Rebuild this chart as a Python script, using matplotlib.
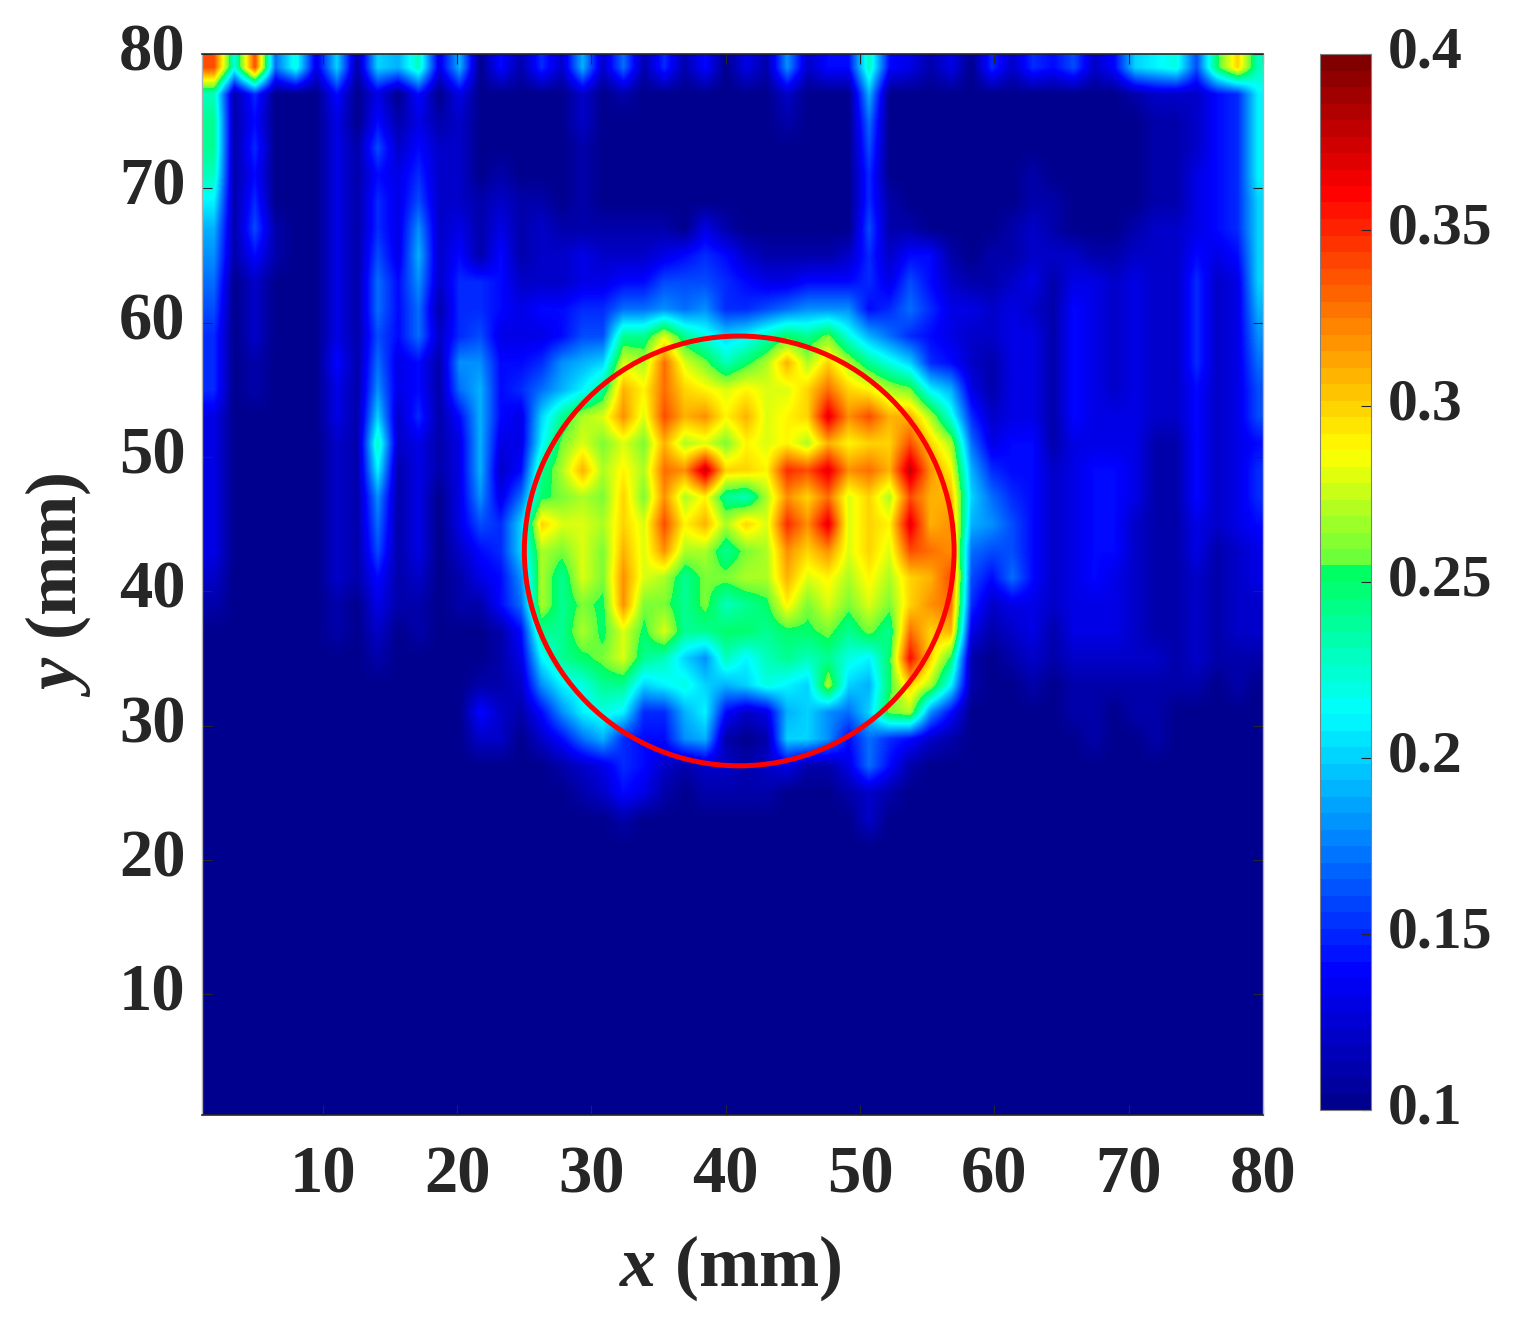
"""
Mapa de calor com círculo vermelho e barra de cores (jet).
"""
import matplotlib
matplotlib.use("Agg")
import matplotlib.pyplot as plt, numpy as np
from matplotlib.colors import LinearSegmentedColormap, Normalize
from matplotlib.cm import ScalarMappable
from matplotlib.patches import Circle
from matplotlib.transforms import ScaledTranslation

# valores, em centésimos; linhas de y=79 até y=23, de 2 em 2 mm
# colunas a partir de x=1.9, de 1.525 em 1.525 mm
field_top = [
    [34,22, 34,17, 22,13, 20,11, 20,19, 23,13, 19,10, 14,11, 15,12, 19,12, 17,11, 15,11, 14,10, 13,11, 18,12, 14,14, 23,14, 13,11, 13,10, 15,12, 15,14, 16,12, 14,20, 21,22, 16,25, 30,23],
    [23,11, 15,10, 10,10, 14,10, 13,10, 14,10, 13,10, 10,10, 10,10, 12,10, 11,10, 10,10, 10,10, 10,10, 12,10, 10,10, 19,10, 10,10, 10,10, 10,10, 10,10, 10,10, 10,11, 12,12, 12,14, 15,21],
    [24,11, 14,10, 10,10, 13,10, 14,11, 13,11, 12,10, 10,10, 10,10, 12,10, 10,10, 10,10, 10,10, 10,10, 11,10, 10,10, 17,10, 10,10, 10,10, 10,10, 10,10, 10,10, 10,10, 11,11, 12,14, 15,21],
    [24,11, 15,10, 10,10, 13,11, 16,12, 14,12, 12,10, 10,10, 10,10, 11,10, 10,10, 10,10, 10,10, 10,10, 10,10, 10,10, 16,10, 10,10, 10,10, 10,10, 10,10, 10,10, 10,10, 11,11, 12,14, 15,21],
    [23,11, 14,10, 10,10, 13,11, 14,13, 15,12, 12,10, 11,10, 10,10, 11,10, 10,10, 10,10, 10,10, 10,10, 10,10, 10,10, 15,10, 10,10, 10,10, 10,10, 11,10, 10,10, 10,10, 11,11, 13,14, 15,21],
    [21,11, 15,10, 10,10, 13,11, 15,13, 16,12, 12,11, 12,11, 11,10, 11,10, 10,10, 10,10, 10,10, 10,10, 10,10, 10,10, 15,11, 10,10, 10,10, 10,10, 11,11, 10,10, 10,10, 11,11, 13,14, 15,20],
    [19,11, 16,11, 10,10, 13,11, 15,13, 18,12, 13,11, 13,11, 12,11, 11,11, 11,11, 11,10, 13,11, 10,10, 10,10, 10,10, 16,11, 11,10, 10,10, 10,11, 12,11, 10,10, 10,11, 12,12, 13,14, 15,20],
    [18,11, 14,11, 10,10, 13,11, 16,13, 19,12, 14,11, 14,11, 12,12, 13,12, 12,12, 13,14, 15,14, 12,11, 11,11, 11,12, 15,12, 14,14, 11,10, 11,11, 12,12, 12,11, 11,12, 12,12, 14,13, 14,20],
    [17,10, 12,10, 10,10, 13,11, 17,14, 18,12, 15,15, 14,12, 12,12, 13,13, 14,14, 16,16, 16,15, 14,13, 13,14, 14,14, 15,13, 16,14, 12,11, 11,12, 13,11, 13,13, 12,13, 12,12, 15,12, 13,20],
    [16,10, 12,10, 10,10, 13,11, 17,14, 17,11, 15,15, 14,13, 14,14, 15,15, 17,17, 18,17, 18,15, 15,16, 17,18, 18,18, 14,15, 17,15, 13,13, 12,13, 12,11, 14,13, 12,13, 12,12, 15,12, 13,19],
    [15,10, 12,10, 10,10, 13,11, 16,14, 17,12, 15,16, 13,13, 13,14, 16,16, 24,24, 28,24, 22,20, 21,23, 25,24, 26,22, 19,17, 15,14, 13,12, 12,13, 13,11, 14,13, 12,13, 12,12, 15,12, 13,18],
    [15,10, 11,10, 10,10, 14,11, 17,13, 14,11, 18,18, 14,14, 15,18, 19,20, 28,27, 33,28, 26,23, 25,27, 31,27, 30,27, 24,22, 20,15, 14,12, 11,13, 13,11, 14,13, 12,13, 12,12, 15,12, 13,17],
    [15,10, 11,10, 10,10, 13,11, 18,13, 14,11, 17,19, 14,15, 17,19, 21,24, 31,29, 33,30, 29,28, 29,28, 28,30, 33,30, 29,27, 26,21, 19,13, 11,13, 13,11, 14,13, 12,13, 12,12, 14,12, 13,16],
    [13,10, 10,10, 10,10, 13,11, 20,12, 15,11, 14,19, 14,13, 20,24, 27,28, 32,28, 34,31, 32,29, 31,28, 29,30, 37,32, 34,31, 31,27, 22,15, 12,13, 13,11, 14,13, 13,13, 12,12, 14,12, 13,16],
    [13,10, 10,10, 10,10, 12,11, 23,12, 13,11, 13,19, 13,13, 21,26, 28,26, 28,26, 31,27, 28,26, 29,28, 29,27, 31,29, 30,30, 34,30, 27,17, 13,14, 14,11, 13,13, 13,13, 11,11, 14,12, 13,14],
    [13,10, 10,10, 10,10, 12,11, 21,11, 13,11, 13,19, 12,14, 24,27, 31,27, 29,27, 33,32, 38,30, 30,29, 35,34, 37,32, 33,31, 38,32, 29,19, 15,14, 14,12, 13,14, 14,13, 11,11, 14,12, 13,15],
    [13,10, 10,10, 10,10, 12,11, 18,11, 13,10, 13,18, 13,17, 25,26, 27,26, 30,26, 32,27, 29,24, 23,27, 32,30, 33,28, 30,27, 34,31, 31,20, 17,15, 14,12, 13,14, 14,13, 11,11, 14,12, 13,15],
    [13,10, 10,10, 10,10, 12,11, 17,11, 13,10, 13,16, 15,20, 30,28, 28,27, 30,28, 34,29, 31,27, 30,28, 35,32, 37,28, 30,29, 37,31, 32,19, 18,16, 14,12, 13,14, 14,12, 11,11, 13,12, 13,14],
    [13,10, 10,10, 10,10, 12,11, 16,11, 13,10, 12,14, 15,20, 27,26, 28,26, 31,28, 32,27, 27,24, 26,27, 32,30, 32,28, 30,28, 34,33, 32,17, 16,16, 14,12, 13,14, 14,12, 11,11, 13,11, 12,13],
    [12,10, 10,10, 10,10, 12,11, 14,11, 12,10, 11,13, 14,18, 27,24, 28,26, 32,28, 27,24, 26,26, 27,27, 31,28, 29,27, 29,27, 30,31, 34,16, 14,17, 14,12, 13,14, 13,12, 11,11, 12,11, 12,13],
    [11,10, 10,10, 10,10, 11,10, 13,11, 11,10, 11,11, 14,17, 27,24, 26,25, 32,26, 26,24, 26,23, 24,25, 29,26, 28,26, 28,26, 30,32, 33,15, 12,13, 13,12, 13,13, 13,12, 11,11, 12,11, 12,12],
    [10,10, 10,10, 10,10, 11,10, 12,10, 11,10, 10,10, 11,14, 24,24, 27,25, 28,25, 28,24, 24,25, 25,24, 25,25, 26,24, 26,24, 33,30, 31,13, 11,12, 13,11, 13,13, 13,12, 11,11, 12,11, 12,12],
    [10,10, 10,10, 10,10, 10,10, 11,10, 10,10, 10,10, 11,13, 21,24, 25,26, 28,24, 23,20, 18,23, 21,23, 24,23, 24,22, 21,25, 36,30, 25,11, 10,11, 12,11, 12,12, 12,12, 12,11, 12,11, 11,11],
    [10,10, 10,10, 10,10, 10,10, 10,10, 10,10, 10,11, 11,12, 18,21, 22,24, 24,20, 21,22, 20,19, 20,22, 21,20, 27,20, 19,25, 30,27, 21,11, 10,10, 11,10, 11,11, 11,11, 11,11, 11,10, 11,10],
    [10,10, 10,10, 10,10, 10,10, 10,10, 10,10, 10,14, 12,11, 14,18, 21,22, 21,15, 15,19, 21,14, 12,13, 19,20, 18,17, 20,26, 27,18, 14,10, 10,10, 10,10, 11,11, 10,11, 11,10, 10,10, 10,10],
    [10,10, 10,10, 10,10, 10,10, 10,10, 10,10, 10,12, 12,10, 12,14, 17,19, 15,14, 14,18, 19,11, 10,11, 20,20, 18,14, 17,15, 14,12, 11,10, 10,10, 10,10, 10,11, 10,10, 11,10, 10,10, 10,10],
    [10,10, 10,10, 10,10, 10,10, 10,10, 10,10, 10,10, 10,10, 10,11, 12,13, 15,14, 12,11, 12,12, 11,12, 13,11, 11,13, 17,14, 11,10, 10,10, 10,10, 10,10, 10,10, 10,10, 10,10, 10,10, 10,10],
    [10,10, 10,10, 10,10, 10,10, 10,10, 10,10, 10,10, 10,10, 10,10, 11,12, 14,13, 11,10, 11,11, 11,11, 10,10, 10,11, 12,11, 10,10, 10,10, 10,10, 10,10, 10,10, 10,10, 10,10, 10,10, 10,10],
    [10,10, 10,10, 10,10, 10,10, 10,10, 10,10, 10,10, 10,10, 10,10, 10,10, 11,10, 10,10, 10,10, 10,10, 10,10, 10,10, 12,10, 10,10, 10,10, 10,10, 10,10, 10,10, 10,10, 10,10, 10,10, 10,10],
]
field_floor = [10] * 52  # de y=21 para baixo é tudo fundo
n_floor_rows = 11

ticks_mm = [10, 20, 30, 40, 50, 60, 70, 80]
cbar_ticks = [0.1, 0.15, 0.2, 0.25, 0.3, 0.35, 0.4]
cbar_labels = ["0.1", "0.15", "0.2", "0.25", "0.3", "0.35", "0.4"]
circle_xy = (41, 43)
circle_r = 16

W, H = 1522, 1323
dark = "#262626"

plt.rcParams["font.family"] = ["Liberation Serif", "DejaVu Serif"]
plt.rcParams["font.weight"] = "bold"
plt.rcParams["mathtext.fontset"] = "custom"
plt.rcParams["mathtext.bfit"] = "Liberation Serif:italic:bold"

# jet do MATLAB, mas com o salto no verde que aparece na barra da figura
jet = LinearSegmentedColormap.from_list("matlab_jet", [
    (0.0, (0, 0, 0.5625)),
    (0.125, (0, 0, 1)),
    (0.375, (0, 1, 1)),
    (0.515, (0, 1, 0.35)),
    (0.515, (0.38, 1, 0.25)),
    (0.625, (1, 1, 0)),
    (0.875, (1, 0, 0)),
    (1.0, (0.5, 0, 0)),
], N=256)

field = np.array(field_top + [field_floor] * n_floor_rows) / 100
# repete a primeira coluna para a imagem chegar até a borda esquerda
field = np.column_stack([field[:, 0], field])

fig = plt.figure(figsize=(W / 100, H / 100), dpi=100)
ax = fig.add_axes([202 / W, (H - 1115) / H, 1061 / W, 1061 / H])

im = ax.imshow(
    field, cmap=jet, vmin=0.1, vmax=0.4, aspect="auto", origin="upper",
    interpolation="bilinear", extent=(-0.3875, 80.4, 0, 80),
)
ax.add_patch(Circle(circle_xy, circle_r, fill=False, edgecolor="#ff0000", linewidth=3.6))

ax.set_xlim(1, 80)
ax.set_ylim(1, 80)
ax.set_xticks(ticks_mm)
ax.set_yticks(ticks_mm)
ax.tick_params(direction="in", length=7, width=0.8, color=dark, top=True, right=True,
               labelsize=48, labelcolor=dark)
ax.tick_params(axis="x", pad=22)
ax.tick_params(axis="y", pad=12)
for side in ["top", "bottom"]:
    ax.spines[side].set_color(dark)
    ax.spines[side].set_linewidth(1.2)
for side in ["left", "right"]:
    ax.spines[side].set_color("#b0b0b0")
    ax.spines[side].set_linewidth(1.0)

fig.text(730 / W, 1 - 1268 / H, r"$\mathbfit{x}$ (mm)", fontsize=52, color=dark,
         ha="center", va="center")
fig.text(58 / W, 1 - 585 / H, r"$\mathbfit{y}$ (mm)", fontsize=52, color=dark,
         ha="center", va="center", rotation=90)

cax = fig.add_axes([1320 / W, (H - 1110) / H, 51 / W, 1056 / H])
sm = ScalarMappable(norm=Normalize(0.1, 0.4), cmap=jet.resampled(64))
cbar = fig.colorbar(sm, cax=cax)
cbar.set_ticks(cbar_ticks)
cbar.set_ticklabels(cbar_labels)
cax.tick_params(direction="in", length=7, width=0.8, color=dark,
                labelsize=43, labelcolor=dark, pad=12)
cbar.outline.set_edgecolor("#808080")
cbar.outline.set_linewidth(0.8)

# os rótulos verticais ficam um pouco acima da marca
up = ScaledTranslation(0, 5 / 72, fig.dpi_scale_trans)
for label in ax.get_yticklabels() + cax.get_yticklabels():
    label.set_transform(label.get_transform() + up)

plt.savefig("out.png", dpi=100)
